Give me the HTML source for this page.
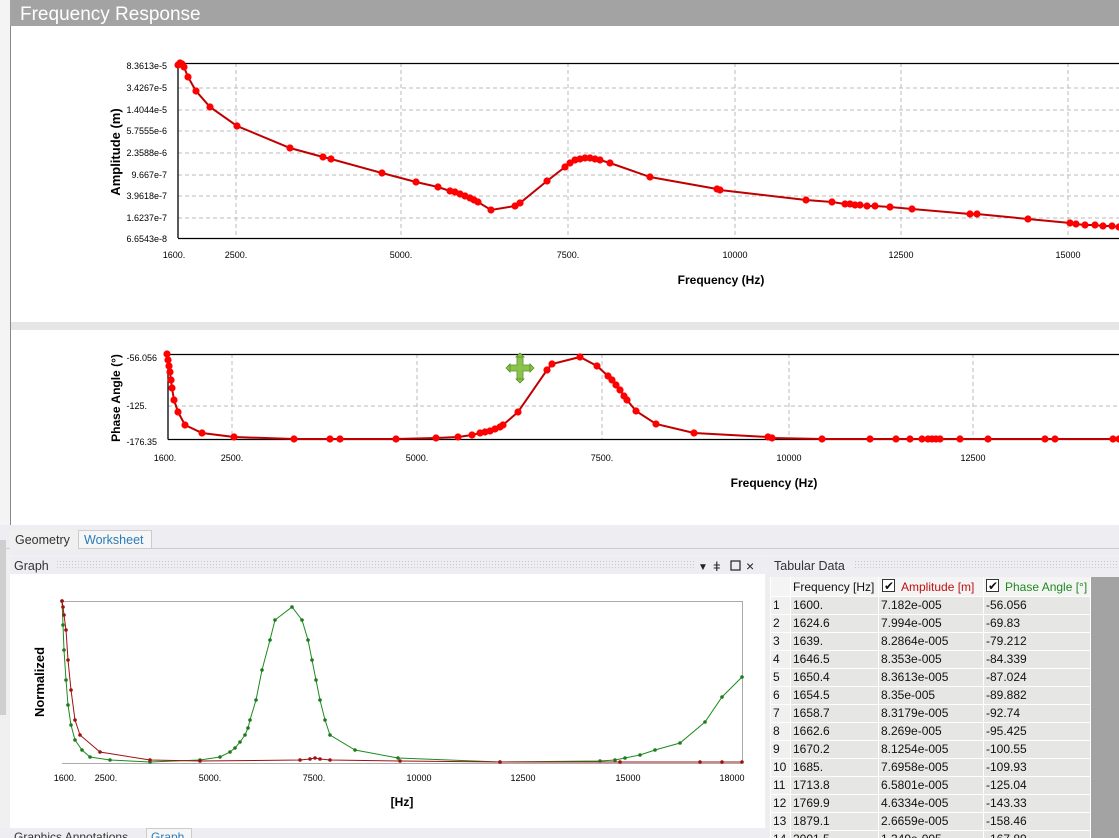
<!DOCTYPE html>
<html><head><meta charset="utf-8"><style>
body{margin:0;width:1119px;height:838px;overflow:hidden;background:#f0f0f0;font-family:"Liberation Sans",sans-serif}
svg{position:absolute;left:0;top:0}
</style></head><body>
<svg id="s" width="1119" height="838" xmlns="http://www.w3.org/2000/svg" font-family="Liberation Sans, sans-serif">
<defs>
<pattern id="dots" width="3" height="3" patternUnits="userSpaceOnUse"><rect width="1" height="1" fill="#c8c8c8"/></pattern>
</defs>
<rect x="0" y="0" width="1119" height="838" fill="#f0f0f0"/>
<rect x="0" y="0" width="10" height="525" fill="#f4f4f4"/>
<rect x="10" y="0" width="1109" height="26" fill="#a3a3a3"/>
<text x="20" y="20" font-size="19" fill="#fff">Frequency Response</text>
<rect x="10" y="26" width="1109" height="296" fill="#fff"/>
<rect x="10" y="322" width="1109" height="8" fill="#e6e6e6"/>
<rect x="10" y="330" width="1109" height="195" fill="#fff"/>
<line x1="10.5" y1="26" x2="10.5" y2="525" stroke="#888"/>
<g stroke="#bbb" stroke-dasharray="4,3">
<line x1="178" y1="88" x2="1119" y2="88"/><line x1="178" y1="110" x2="1119" y2="110"/><line x1="178" y1="131" x2="1119" y2="131"/><line x1="178" y1="153" x2="1119" y2="153"/><line x1="178" y1="175" x2="1119" y2="175"/><line x1="178" y1="196" x2="1119" y2="196"/><line x1="178" y1="218" x2="1119" y2="218"/>
<line x1="236" y1="63" x2="236" y2="238"/><line x1="401" y1="63" x2="401" y2="238"/><line x1="568" y1="63" x2="568" y2="238"/><line x1="735" y1="63" x2="735" y2="238"/><line x1="901" y1="63" x2="901" y2="238"/><line x1="1068" y1="63" x2="1068" y2="238"/>
</g>
<path d="M178 238V63.5H1119M178 238.5H1119" stroke="#000" fill="none" stroke-width="1.3"/>
<g font-size="9" fill="#000" text-anchor="end">
<text x="167" y="69">8.3613e-5</text><text x="167" y="91">3.4267e-5</text><text x="167" y="113">1.4044e-5</text><text x="167" y="134">5.7555e-6</text><text x="167" y="156">2.3588e-6</text><text x="167" y="178">9.667e-7</text><text x="167" y="199">3.9618e-7</text><text x="167" y="221">1.6237e-7</text><text x="167" y="242">6.6543e-8</text>
</g>
<g font-size="9" text-anchor="middle">
<text x="174" y="258">1600.</text><text x="236" y="258">2500.</text><text x="401" y="258">5000.</text><text x="568" y="258">7500.</text><text x="735" y="258">10000</text><text x="901" y="258">12500</text><text x="1068" y="258">15000</text>
</g>
<text x="721" y="284" font-size="12" font-weight="bold" text-anchor="middle">Frequency (Hz)</text>
<text transform="translate(120,152) rotate(-90)" font-size="13" font-weight="bold" text-anchor="middle">Amplitude (m)</text>
<g stroke="#bbb" stroke-dasharray="4,3">
<line x1="168" y1="406" x2="1119" y2="406"/>
<line x1="232" y1="354" x2="232" y2="439"/><line x1="417" y1="354" x2="417" y2="439"/><line x1="602" y1="354" x2="602" y2="439"/><line x1="789" y1="354" x2="789" y2="439"/><line x1="973" y1="354" x2="973" y2="439"/>
</g>
<path d="M168 439.5V354.5H1119M168 439.5H1119" stroke="#000" fill="none" stroke-width="1.3"/>
<g font-size="9" text-anchor="end"><text x="157" y="361">-56.056</text><text x="147" y="409">-125.</text><text x="157" y="445">-176.35</text></g>
<g font-size="9" text-anchor="middle">
<text x="165" y="461">1600.</text><text x="232" y="461">2500.</text><text x="417" y="461">5000.</text><text x="602" y="461">7500.</text><text x="789" y="461">10000</text><text x="973" y="461">12500</text>
</g>
<text x="774" y="487" font-size="12" font-weight="bold" text-anchor="middle">Frequency (Hz)</text>
<text transform="translate(120,398) rotate(-90)" font-size="12" font-weight="bold" text-anchor="middle">Phase Angle (°)</text>
<g id="plots"></g>
<g fill="#8bc34a" stroke="#5a8f2a" stroke-width="0.8">
<path d="M517 357h6v8h8v6h-8v8h-6v-8h-8v-6h8z"/>
<path d="M520 353l4 4h-8zM520 383l4-4h-8zM506 368l4-4v8zM534 368l-4-4v8z"/>
</g>
<rect x="0" y="525" width="1119" height="30" fill="#eeeef2"/>
<line x1="0" y1="548.5" x2="1119" y2="548.5" stroke="#ccc"/>
<rect x="10" y="530" width="68" height="19" fill="#f0f0f0"/>
<text x="15" y="544" font-size="12.5" fill="#333">Geometry</text>
<rect x="78.5" y="530.5" width="73" height="18" fill="#f6f6f6" stroke="#ccc"/>
<text x="84" y="544" font-size="12.5" fill="#2a7ab8">Worksheet</text>
<rect x="0" y="540" width="6" height="175" fill="#cfcfcf"/>
<rect x="10" y="557" width="755" height="17" fill="#eeeef2"/>
<rect x="56" y="561" width="640" height="8" fill="url(#dots)"/>
<text x="14" y="570" font-size="12.5" fill="#333">Graph</text>
<text x="698" y="570" font-size="10" fill="#222">▼</text>
<text x="713" y="571" font-size="13" fill="#222">ǂ</text>
<rect x="731" y="561" width="9" height="9" fill="none" stroke="#222" stroke-width="1.2"/>
<text x="746" y="571" font-size="14" fill="#222">×</text>
<rect x="10" y="574" width="755" height="256" fill="#fff"/>
<path d="M62 601.5H742.5V763" stroke="#aaa" fill="none"/>
<line x1="62" y1="763.5" x2="742" y2="763.5" stroke="#aaa"/>
<text transform="translate(44,682) rotate(-90)" font-size="13" font-weight="bold" text-anchor="middle">Normalized</text>
<g font-size="9" text-anchor="middle">
<text x="65" y="781">1600.</text><text x="106" y="781">2500.</text><text x="210" y="781">5000.</text><text x="314" y="781">7500.</text><text x="419" y="781">10000</text><text x="523" y="781">12500</text><text x="628" y="781">15000</text><text x="732" y="781">18000</text>
</g>
<text x="402" y="806" font-size="12" font-weight="bold" text-anchor="middle">[Hz]</text>
<g id="plots2"></g>
<rect x="0" y="828" width="770" height="10" fill="#eeeef2"/>
<text x="14" y="841" font-size="12" fill="#333">Graphics Annotations</text>
<rect x="146.5" y="828.5" width="45" height="12" fill="#f6f6f6" stroke="#ccc"/>
<text x="151" y="841" font-size="12" fill="#2a7ab8">Graph</text>
<rect x="766" y="557" width="353" height="281" fill="#eeeef2"/>
<rect x="855" y="561" width="264" height="8" fill="url(#dots)"/>
<text x="774" y="570" font-size="12.5" fill="#333">Tabular Data</text>
<rect x="1090" y="577" width="29" height="261" fill="#a3a3a3"/>
<g id="tbl"></g>
</svg>
<script>
var NS="http://www.w3.org/2000/svg";
function el(p,n,a){var e=document.createElementNS(NS,n);for(var k in a)e.setAttribute(k,a[k]);p.appendChild(e);return e}
function series(g,pts,col,mcol,r,w){
 el(g,'polyline',{points:pts.map(function(p){return p.join(',')}).join(' '),fill:'none',stroke:col,'stroke-width':w});
 pts.forEach(function(p){el(g,'circle',{cx:p[0],cy:p[1],r:r,fill:mcol})});
}
var g=document.getElementById('plots'),g2=document.getElementById('plots2');
var amp=[[178,65],[180,63],[182,64],[184,67],[188,77],[196,91],[210,107],[237,126],[290,148],[323,157],[331,159],[382,173],[416,182],[438,187],[450,191],[455,192],[460,194],[465,196],[470,198],[474,200],[478,202],[491,210],[515,206],[520,203],[547,181],[565,167],[570,163],[575,160],[580,159],[585,158],[590,158],[595,159],[600,160],[610,163],[650,177],[717,189],[720,190],[806,200],[832,202],[845,204],[850,204],[855,205],[860,205],[867,206],[875,206],[890,207],[912,209],[970,214],[977,214],[1028,219],[1070,223],[1076,224],[1085,225],[1095,225],[1103,226],[1112,226],[1119,227]];
series(g,amp,'#c00000','#f00',3.6,2);
var ph=[[167,354],[168,360],[169,366],[170,372],[171,380],[172,388],[174,400],[178,412],[185,425],[202,433],[234,437],[294,439],[330,439],[340,439],[396,439],[436,438],[458,437],[472,435],[480,433],[485,432],[490,431],[495,429],[500,427],[503,425],[518,412],[547,370],[552,364],[580,357],[597,366],[608,376],[612,380],[616,385],[620,390],[624,396],[627,400],[636,411],[656,424],[694,433],[768,437],[772,438],[822,439],[870,439],[896,439],[910,439],[922,439],[928,439],[932,439],[936,439],[940,439],[960,439],[988,439],[1045,439],[1055,439],[1113,439],[1119,439]];
series(g,ph,'#c00000','#f00',3.6,2);
var gr=[[62,601],[63,625],[64,650],[66,680],[68,705],[71,725],[75,740],[82,750],[90,757],[110,760],[150,762],[200,760],[220,757],[230,752],[235,748],[240,742],[245,735],[248,728],[250,720],[256,700],[262,670],[270,640],[275,620],[292,607],[302,620],[308,640],[312,660],[316,680],[320,700],[325,720],[330,735],[355,750],[398,758],[500,762],[600,761],[615,760],[625,758],[640,755],[655,750],[680,743],[705,722],[722,697],[742,677]];
series(g2,gr,'#1e8a1e','#1e7a1e',1.8,1);
var rd=[[62,601],[63,607],[64,615],[66,630],[68,660],[71,690],[75,720],[80,735],[100,752],[150,760],[200,761],[300,760],[310,759],[315,758],[320,759],[330,760],[400,761],[500,762],[620,762],[700,762],[722,762],[742,762]];
series(g2,rd,'#a01010','#a01010',1.8,1);
var t=document.getElementById('tbl');
var rows=[["1600.","7.182e-005","-56.056"],["1624.6","7.994e-005","-69.83"],["1639.","8.2864e-005","-79.212"],["1646.5","8.353e-005","-84.339"],["1650.4","8.3613e-005","-87.024"],["1654.5","8.35e-005","-89.882"],["1658.7","8.3179e-005","-92.74"],["1662.6","8.269e-005","-95.425"],["1670.2","8.1254e-005","-100.55"],["1685.","7.6958e-005","-109.93"],["1713.8","6.5801e-005","-125.04"],["1769.9","4.6334e-005","-143.33"],["1879.1","2.6659e-005","-158.46"],["2001.5","1.349e-005","-167.89"]];
var cx=[770,790,878,983,1090];
el(t,'rect',{x:770,y:577,width:320,height:19,fill:'#f4f4f4'});
function txt(x,y,s,c){var e=el(t,'text',{x:x,y:y,'font-size':12,fill:c||'#111'});e.textContent=s}
txt(793,591,"Frequency [Hz]");
el(t,'rect',{x:882.5,y:579.5,width:12,height:12,fill:'#fff',stroke:'#333'});txt(884,590,"✔");
txt(901,591,"Amplitude [m]","#c01010");
el(t,'rect',{x:986.5,y:579.5,width:12,height:12,fill:'#fff',stroke:'#333'});txt(988,590,"✔");
txt(1005,591,"Phase Angle [°]","#1e8a1e");
rows.forEach(function(r,i){var y=596+i*18;
 el(t,'rect',{x:770,y:y,width:20,height:18,fill:'#f0f0f0'});
 el(t,'rect',{x:790,y:y,width:300,height:18,fill:'#e6e6e4'});
 txt(773,y+13,String(i+1));txt(793,y+13,r[0]);txt(881,y+13,r[1]);txt(986,y+13,r[2]);
 el(t,'line',{x1:770,y1:y+0.5,x2:1090,y2:y+0.5,stroke:'#fff'});
});
cx.forEach(function(x){el(t,'line',{x1:x+0.5,y1:577,x2:x+0.5,y2:838,stroke:'#fff'})});
</script>
</body></html>
